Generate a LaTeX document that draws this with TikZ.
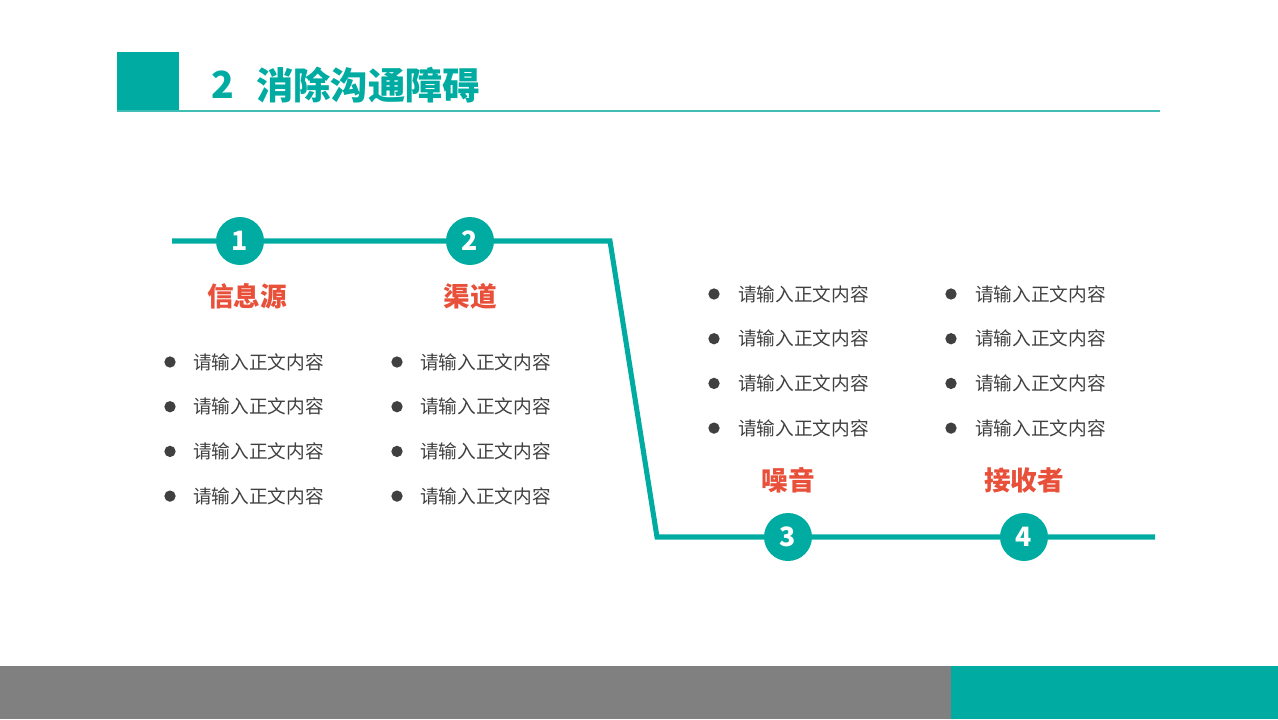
\documentclass[tikz,border=0pt]{standalone}
\usepackage{fontspec}
\newfontfamily\cjk{Noto Sans CJK SC}
\usetikzlibrary{positioning}
\definecolor{teal}{RGB}{0,172,162}
\definecolor{tealline}{RGB}{64,190,182}
\definecolor{redlabel}{RGB}{232,80,58}
\definecolor{textgray}{RGB}{64,64,64}
\definecolor{bargray}{RGB}{128,128,128}
\tikzset{
  stepcircle/.style={circle, fill=teal, minimum size=36pt, inner sep=0pt, text=white, font=\cjk\bfseries\fontsize{20}{20}\selectfont},
  steplabel/.style={text=redlabel, font=\cjk\bfseries\fontsize{20}{20}\selectfont, inner sep=0pt},
  bullettext/.style={anchor=west, text=textgray, font=\cjk\fontsize{14}{14}\selectfont, inner sep=0pt},
  bulletdot/.style={circle, fill=textgray, minimum size=8.5pt, inner sep=0pt},
}
\begin{document}
\begin{tikzpicture}[x=0.75pt,y=-0.75pt]
\useasboundingbox (0,0) rectangle (1278,719);
% header
\fill[teal] (117,52) rectangle (179,111);
\draw[tealline, line width=1.5pt] (117,111) -- (1160,111);
\node[text=teal, font=\cjk\bfseries\fontsize{28}{28}\selectfont, inner sep=0pt] (titlenum) at (223,85) {2};
\node[text=teal, font=\cjk\bfseries\fontsize{28}{28}\selectfont, anchor=west, inner sep=0pt] (title) at (256,85) {消除沟通障碍};
% bottom bar
\fill[bargray] (0,666) rectangle (951,719);
\fill[teal] (951,666) rectangle (1278,719);
% the route
\coordinate (start) at (172,241);
\coordinate (bendA) at (610,241);
\coordinate (bendB) at (657,537);
\coordinate (finish) at (1155,537);
\draw[teal, line width=3.8pt] (start) -- (bendA) -- (bendB) -- (finish);
\node[stepcircle] (c1) at (240,241) {1};
\node[stepcircle] (c2) at (470,241) {2};
\node[stepcircle] (c3) at (788,537) {3};
\node[stepcircle] (c4) at (1024,537) {4};
\node[steplabel] (source) at (247,296) {信息源};
\node[steplabel] (channel) at (470,296) {渠道};
\node[steplabel] (noise) at (788,480) {噪音};
\node[steplabel] (receiver) at (1024,480) {接收者};
% bullet lists
\foreach \dx / \tx / \ys in {170/193/362, 397/420/362, 714/738/294, 951/975/294}
{
	\foreach \k in {0,1,2,3}
	{
		\node[bulletdot] at (\dx,{\ys+44.7*\k}) {};
		\node[bullettext] at (\tx,{\ys+44.7*\k}) {请输入正文内容};
	}
}
\end{tikzpicture}
\end{document}
